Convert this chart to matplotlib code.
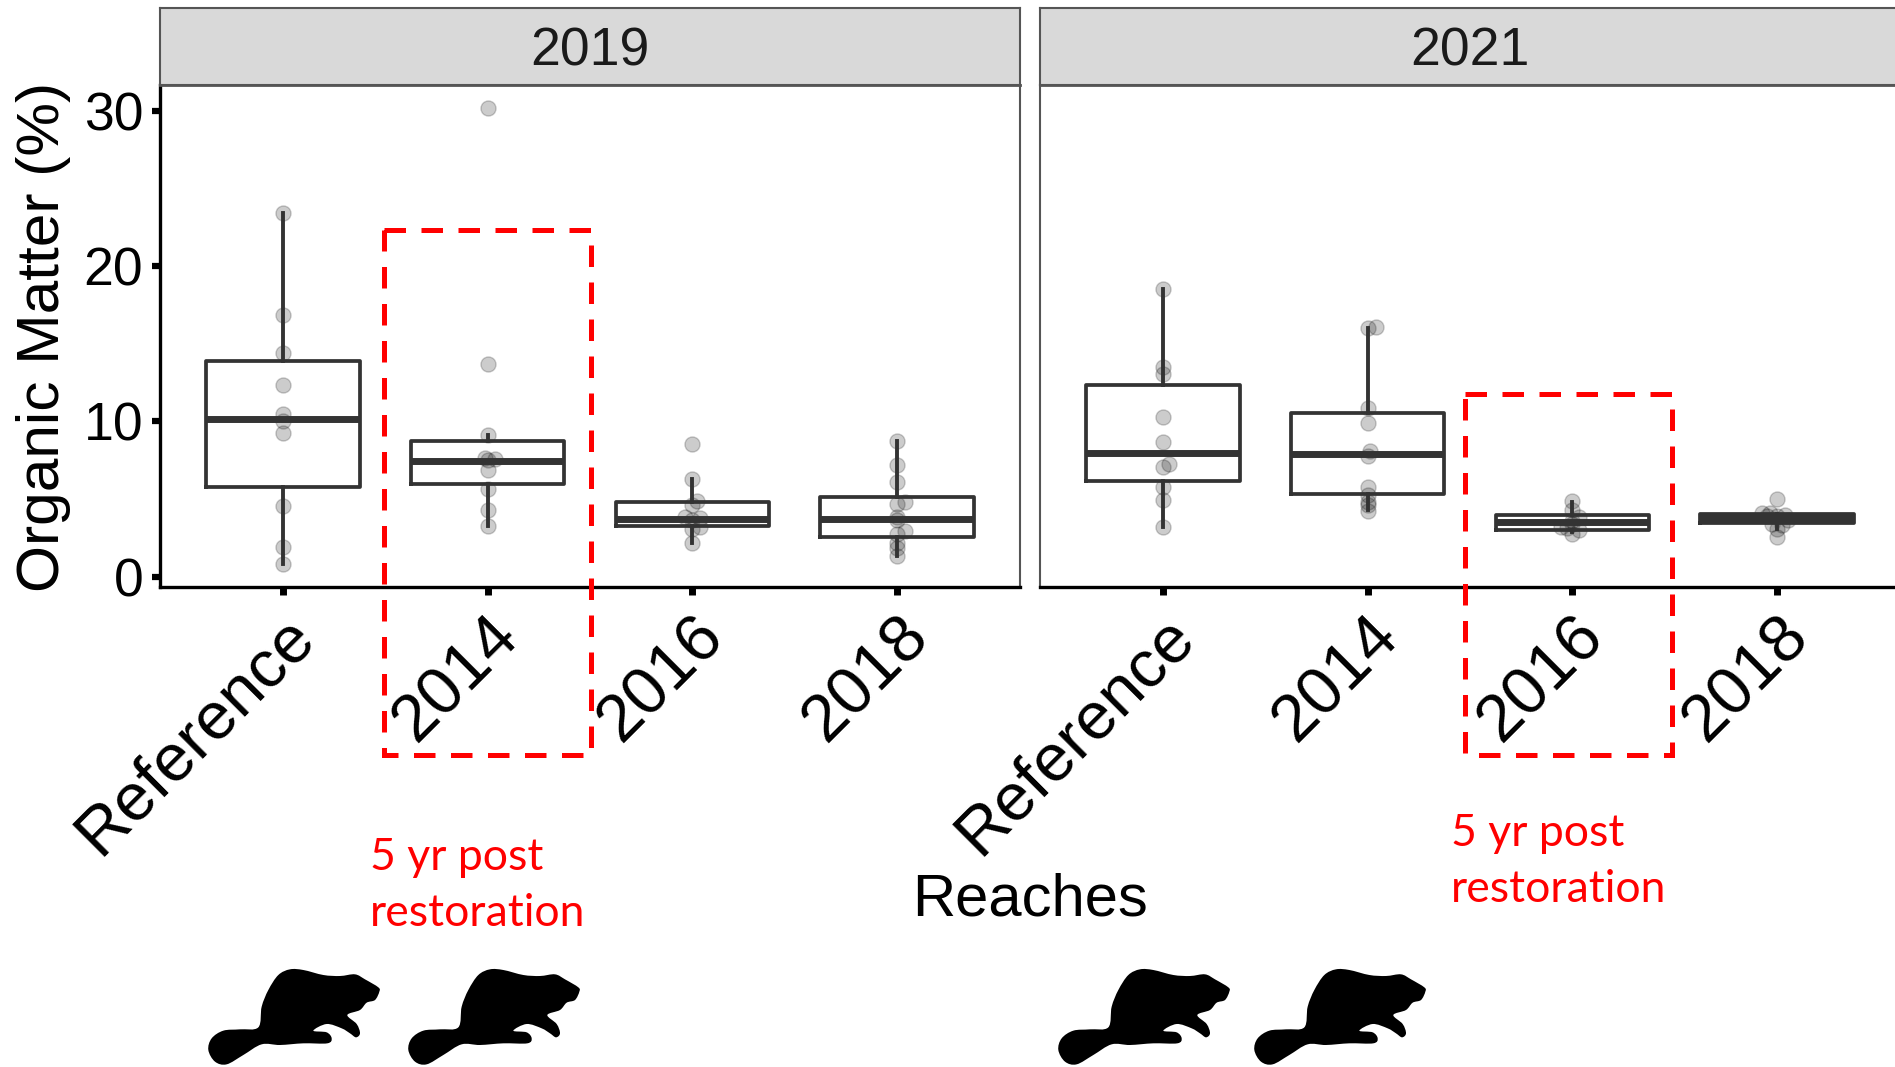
import matplotlib
matplotlib.use("Agg")
import matplotlib.pyplot as plt
from matplotlib.patches import Rectangle, PathPatch
from matplotlib.path import Path

plt.rcParams['font.family'] = ['Liberation Sans', 'DejaVu Sans']

reaches = ["Reference", "2014", "2016", "2018"]
years = ["2019", "2021"]

# box stats per reach
q1_2019 = [5.78, 5.97, 3.28, 2.58]
med_2019 = [10.18, 7.47, 3.69, 3.73]
q3_2019 = [13.9, 8.76, 4.81, 5.15]
lo_2019 = [0.82, 3.29, 2.17, 1.33]
hi_2019 = [23.4, 9.12, 6.29, 8.74]

q1_2021 = [6.14, 5.32, 3.03, 3.47]
med_2021 = [7.98, 7.92, 3.5, 3.76]
q3_2021 = [12.36, 10.56, 3.97, 4.05]
lo_2021 = [3.18, 4.3, 2.86, 3.07]
hi_2021 = [18.55, 16.0, 4.83, 4.0]

# sample points
pts_2019_ref = [23.4, 16.85, 14.4, 12.36, 10.5, 10.0, 9.27, 4.57, 1.93, 0.82]
jit_2019_ref = [0, 0, 0, 0, 0, 0, 0, 0, 0, 0]
pts_2019_14 = [30.2, 13.67, 9.12, 7.62, 7.5, 7.55, 6.87, 5.65, 4.27, 3.29]
jit_2019_14 = [0, 0, 0, -0.015, 0, 0.034, 0, 0, 0, 0]
pts_2019_16 = [8.54, 6.29, 4.87, 4.62, 3.82, 3.65, 3.76, 3.22, 3.05, 2.17]
jit_2019_16 = [0, 0, 0.024, 0, -0.037, 0, 0.039, 0.039, 0, 0]
pts_2019_18 = [8.74, 7.17, 6.12, 4.83, 4.66, 3.86, 3.65, 2.94, 2.75, 2.15, 1.83, 1.33]
jit_2019_18 = [0, 0, 0, 0.037, 0, 0, 0, 0.037, 0, 0, 0, 0]

pts_2021_ref = [18.55, 13.52, 13.07, 10.26, 8.69, 7.26, 7.08, 5.8, 4.92, 3.18]
jit_2021_ref = [0, 0, 0, 0, 0, 0.032, 0, 0, 0, 0]
pts_2021_14 = [16.0, 16.1, 10.84, 9.87, 8.09, 7.77, 5.78, 5.26, 4.83, 4.6, 4.21]
jit_2021_14 = [0, 0.04, 0, 0, 0.013, 0, 0, 0, 0, 0, 0]
pts_2021_16 = [4.89, 4.29, 3.82, 3.6, 3.4, 3.2, 3.12, 3.0, 2.75]
jit_2021_16 = [0, 0, 0.032, 0, 0, -0.055, -0.024, 0.032, 0]
pts_2021_18 = [4.98, 4.12, 4.1, 3.97, 3.9, 3.9, 3.65, 3.4, 3.33, 3.1, 2.54]
jit_2021_18 = [0, -0.075, -0.034, 0.04, 0, -0.05, 0.055, -0.026, 0.022, 0, 0]

panels = [
    (q1_2019, med_2019, q3_2019, lo_2019, hi_2019,
     [pts_2019_ref, pts_2019_14, pts_2019_16, pts_2019_18],
     [jit_2019_ref, jit_2019_14, jit_2019_16, jit_2019_18]),
    (q1_2021, med_2021, q3_2021, lo_2021, hi_2021,
     [pts_2021_ref, pts_2021_14, pts_2021_16, pts_2021_18],
     [jit_2021_ref, jit_2021_14, jit_2021_16, jit_2021_18]),
]

W, H = 1895, 1067
fig = plt.figure(figsize=(W / 100, H / 100), dpi=100)
dark = "#333333"


def px_axes(left, top, right, bottom):
    return fig.add_axes([left / W, 1 - bottom / H, (right - left) / W, (bottom - top) / H])


panel_left = [160, 1040]
for i, (q1, med, q3, lo, hi, pts, jit) in enumerate(panels):
    left = panel_left[i]
    ax = px_axes(left, 85, left + 860, 587)
    stats = []
    for k in range(4):
        stats.append({"med": med[k], "q1": q1[k], "q3": q3[k], "whislo": lo[k], "whishi": hi[k], "fliers": []})
        xs = [k + 1 + j for j in jit[k]]
        ax.scatter(xs, pts[k], s=118, color="black", alpha=0.2, linewidths=1, zorder=2)
    ax.bxp(stats, positions=[1, 2, 3, 4], widths=0.75, showcaps=False, showfliers=False,
           boxprops=dict(color=dark, lw=2.7), medianprops=dict(color=dark, lw=5, solid_capstyle="butt"),
           whiskerprops=dict(color=dark, lw=2.8), zorder=3)
    ax.set_xlim(0.4, 4.6)
    ax.set_ylim(-0.66, 31.66)
    ax.set_xticks([1, 2, 3, 4])
    ax.set_xticklabels(reaches, rotation=45, ha="right", va="top", rotation_mode="anchor", fontsize=48)
    ax.tick_params(axis="x", length=6, width=5, pad=7)
    if i == 0:
        ax.set_yticks([0, 10, 20, 30])
        ax.tick_params(axis="y", length=6, width=4.5, labelsize=38.5, pad=6)
    else:
        ax.tick_params(axis="y", left=False, labelleft=False)
    for s in ["top", "right"]:
        ax.spines[s].set_color("#555555")
        ax.spines[s].set_linewidth(1.5)
    ax.spines["top"].set_linewidth(2)
    ax.spines["bottom"].set_color("black")
    ax.spines["bottom"].set_linewidth(2.4)
    ax.spines["left"].set_color("black" if i == 0 else "#555555")
    ax.spines["left"].set_linewidth(2.4 if i == 0 else 1.5)

    strip = px_axes(left, 8, left + 860, 85)
    strip.set_facecolor("#D9D9D9")
    strip.set_xticks([])
    strip.set_yticks([])
    for s in strip.spines.values():
        s.set_color("#555555")
        s.set_linewidth(1.5)
    strip.text(0.5, 0.44, years[i], transform=strip.transAxes, ha="center", va="center", fontsize=38.5, color="#1A1A1A")

# overlay in pixel coords for annotations
over = fig.add_axes([0, 0, 1, 1])
over.set_xlim(0, W)
over.set_ylim(H, 0)
over.axis("off")
over.patch.set_alpha(0)

for x0, x1, y0 in [(384, 591, 229.5), (1465, 1672, 394)]:
    over.add_patch(Rectangle((x0, y0), x1 - x0, 755 - y0, fill=False, ec="#FF0000", lw=3.6,
                             ls=(0, (4.3, 3.1))))

over.text(370, 858, "5 yr post", color="#FF0000", fontsize=32, family="Lato", ha="left", va="center")
over.text(370, 914, "restoration", color="#FF0000", fontsize=32, family="Lato", ha="left", va="center")
over.text(1451, 834, "5 yr post", color="#FF0000", fontsize=32, family="Lato", ha="left", va="center")
over.text(1451, 890, "restoration", color="#FF0000", fontsize=32, family="Lato", ha="left", va="center")

fig.text(1030 / W, 1 - 900 / H, "Reaches", fontsize=43, ha="center", va="center", color="black")
fig.text(44 / W, 1 - 337 / H, "Organic Matter (%)", fontsize=43.5, rotation=90, ha="center", va="center", color="black")

# beaver outline
outline = [(205, 232), (215, 170), (235, 120), (265, 75), (300, 58), (340, 60), (400, 75), (450, 78), (495, 73),
           (525, 88), (565, 112), (568, 125), (555, 150), (530, 158), (510, 180), (472, 195), (500, 222), (510, 250),
           (498, 262), (480, 250), (455, 235), (410, 222), (370, 242), (410, 247), (425, 265), (412, 280), (340, 280),
           (270, 285), (215, 283), (160, 315), (110, 343), (75, 335), (55, 300), (65, 265), (100, 242), (150, 238)]


def beaver(dx, dy):
    # closed catmull-rom through the traced points
    pts = [(190 + a / 3 + dx, 950 + b / 3 + dy) for a, b in outline]
    n = len(pts)
    verts = [pts[0]]
    codes = [Path.MOVETO]
    for k in range(n):
        p0, p1, p2, p3 = pts[k - 1], pts[k], pts[(k + 1) % n], pts[(k + 2) % n]
        verts.append((p1[0] + (p2[0] - p0[0]) / 6, p1[1] + (p2[1] - p0[1]) / 6))
        verts.append((p2[0] - (p3[0] - p1[0]) / 6, p2[1] - (p3[1] - p1[1]) / 6))
        verts.append(p2)
        codes += [Path.CURVE4, Path.CURVE4, Path.CURVE4]
    over.add_patch(PathPatch(Path(verts, codes), fc="black", ec="none"))


for dx in [0, 200, 850, 1046]:
    beaver(dx, 0)

fig.savefig("out.png", dpi=100)
